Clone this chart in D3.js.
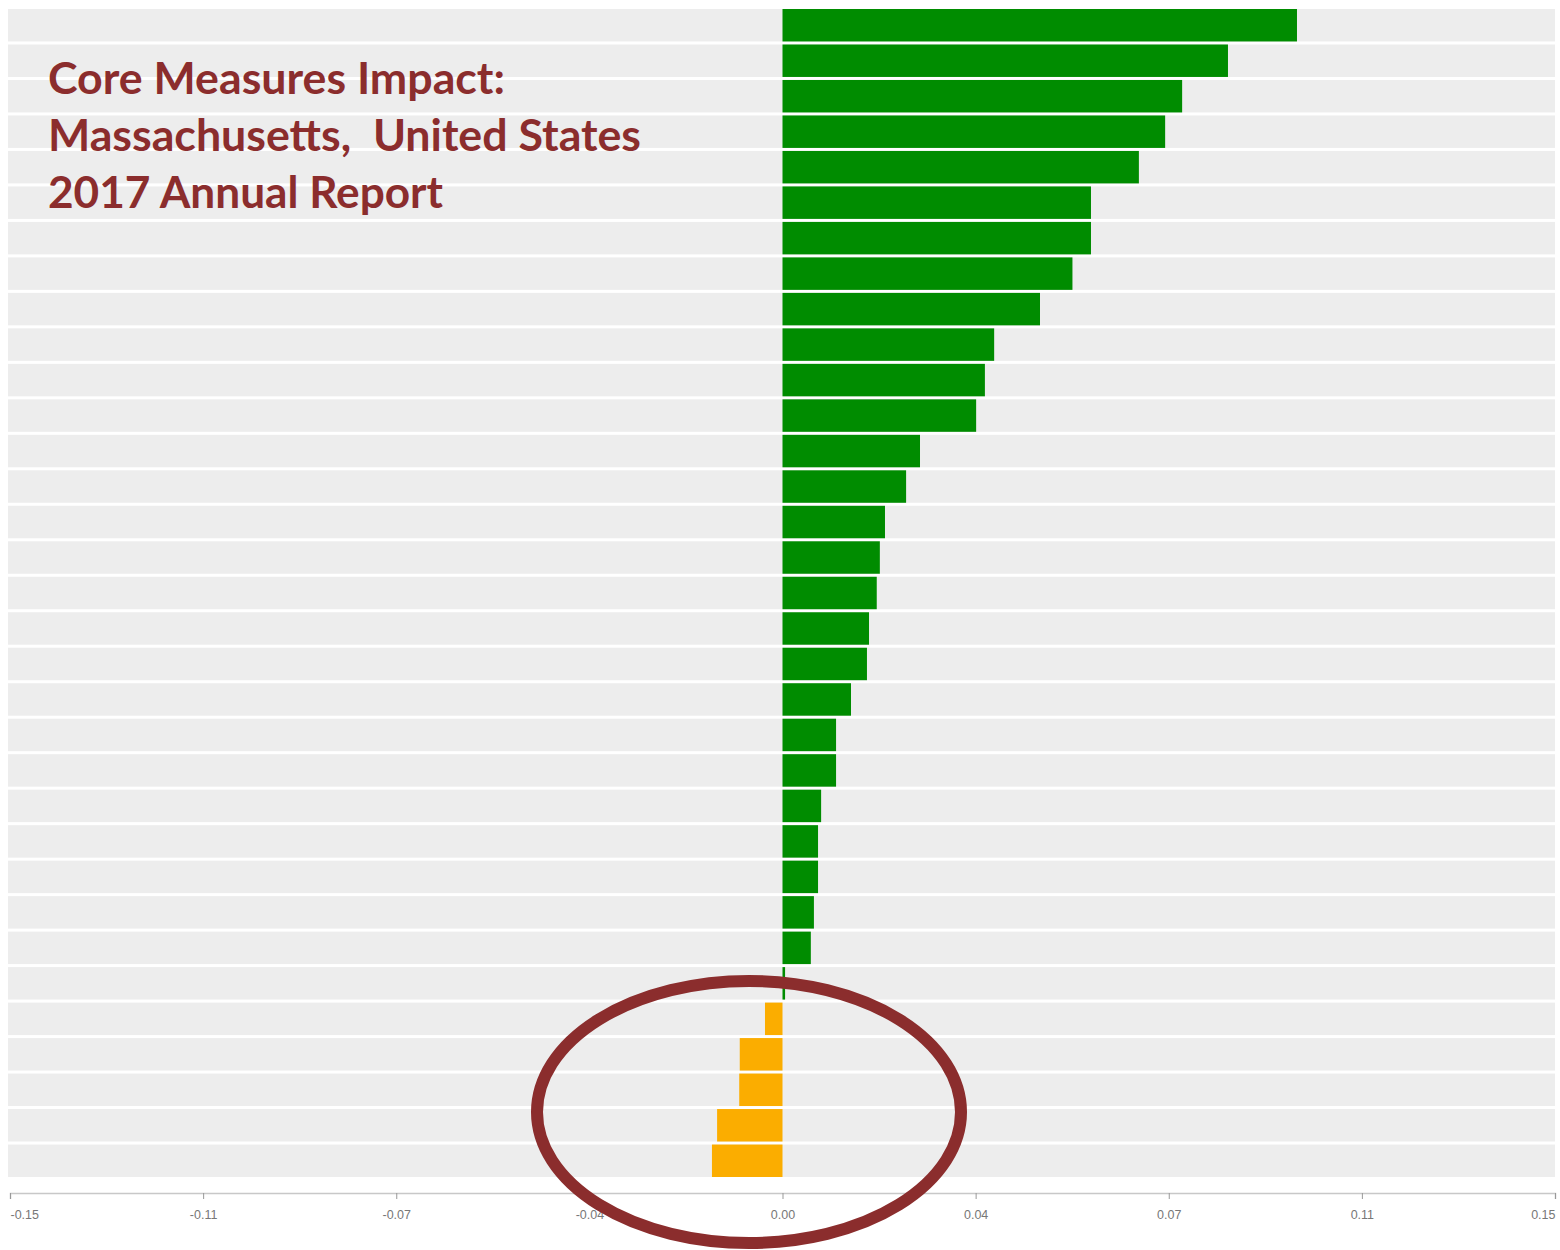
<!DOCTYPE html>
<html>
<head>
<meta charset="utf-8">
<script src="https://cdn.jsdelivr.net/npm/d3@7"></script>
<style>
  html, body { margin: 0; padding: 0; background: #ffffff; }
  svg { display: block; }
</style>
</head>
<body>
<script>
// ---- data ----
const measures = d3.range(1, 34).map(i => "M" + i);
const impacts = [
  0.0999, 0.0865, 0.0776, 0.0743, 0.0692, 0.0599, 0.0599, 0.0563, 0.0500,
  0.0411, 0.0393, 0.0376, 0.0267, 0.0240, 0.0199, 0.0189, 0.0183, 0.0168,
  0.0164, 0.0133, 0.0104, 0.0104, 0.0075, 0.0069, 0.0069, 0.0061, 0.0055,
  0.0005, -0.0034, -0.0083, -0.0084, -0.0127, -0.0137
];
const tickValues = [-0.15, -0.1125, -0.075, -0.0375, 0, 0.0375, 0.075, 0.1125, 0.15];
const tickLabels = ["-0.15", "-0.11", "-0.07", "-0.04", "0.00", "0.04", "0.07", "0.11", "0.15"];
const titleLines = ["Core Measures Impact:", "Massachusetts,  United States", "2017 Annual Report"];

// ---- layout ----
const W = 1560, H = 1250;
const svg = d3.select("body").append("svg").attr("width", W).attr("height", H);
svg.append("rect").attr("width", W).attr("height", H).attr("fill", "#ffffff");

const x = d3.scaleLinear().domain([-0.15, 0.15]).range([10, 1555]);
const y = d3.scaleBand().domain(measures).range([9, 1177]).paddingInner(0.085).paddingOuter(0);

// row backgrounds
svg.append("g").selectAll("rect").data(measures).join("rect")
  .attr("x", 8).attr("width", 1555 - 8)
  .attr("y", d => y(d)).attr("height", y.bandwidth())
  .attr("fill", "#ededed");

// bars
const data = measures.map((m, i) => ({ m, v: impacts[i] }));
svg.append("g").selectAll("rect").data(data).join("rect")
  .attr("x", d => x(Math.min(0, d.v)))
  .attr("width", d => Math.abs(x(d.v) - x(0)))
  .attr("y", d => y(d.m)).attr("height", y.bandwidth())
  .attr("fill", d => d.v >= 0 ? "#008c00" : "#fbad00");

// axis
const axis = d3.axisBottom(x).tickValues(tickValues)
  .tickFormat((d, i) => tickLabels[i]).tickSizeInner(6).tickSizeOuter(6);
const ax = svg.append("g").attr("transform", "translate(0,1193)").call(axis);
ax.select(".domain").attr("stroke", "#c8c8c8").attr("stroke-width", 1.5);
ax.selectAll(".tick line").attr("stroke", "#999");
const n = tickValues.length;
ax.selectAll(".tick text").attr("fill", "#777").attr("font-family", "Liberation Sans, Arial, sans-serif")
  .attr("font-size", 12.5).attr("dy", "1.35em")
  .attr("text-anchor", (d, i) => i === 0 ? "start" : (i === n - 1 ? "end" : "middle"));

// title
const tw = [457, 593, 395];
svg.append("g").selectAll("text").data(titleLines).join("text")
  .attr("x", 48).attr("y", (d, i) => 94 + i * 57)
  .attr("font-family", "Lato, 'Open Sans', sans-serif").attr("font-weight", "bold")
  .attr("font-size", 43).attr("fill", "#8b2d2d")
  .attr("textLength", (d, i) => tw[i]).attr("lengthAdjust", "spacingAndGlyphs")
  .style("white-space", "pre")
  .text(d => d);

// highlight ellipse
svg.append("ellipse")
  .attr("cx", 749).attr("cy", 1112).attr("rx", 212).attr("ry", 131)
  .attr("fill", "none").attr("stroke", "#8b2d2d").attr("stroke-width", 12);
</script>
</body>
</html>
